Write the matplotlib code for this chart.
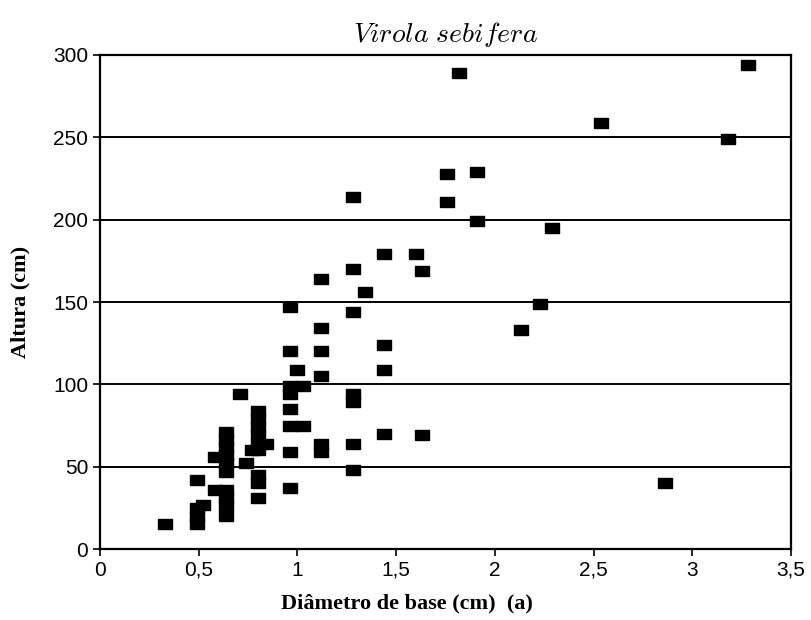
import matplotlib.pyplot as plt

# Virola sebifera - altura vs diametro de base
diametro = [0.33, 0.49, 0.49, 0.52, 0.49, 0.49, 0.58, 0.58, 0.64, 0.64,
            0.64, 0.64, 0.64, 0.64, 0.64, 0.64, 0.64, 0.64, 0.71, 0.74,
            0.77, 0.80, 0.80, 0.80, 0.80, 0.80, 0.80, 0.84, 0.80, 0.80,
            0.80, 0.96, 0.96, 1.00, 0.96, 1.03, 0.96, 0.96, 0.96, 1.03,
            0.96, 0.96, 1.12, 1.12, 1.12, 1.12, 1.12, 1.12, 1.28, 1.28,
            1.28, 1.28, 1.28, 1.28, 1.28, 1.34, 1.44, 1.44, 1.44, 1.44,
            1.60, 1.63, 1.63, 1.76, 1.76, 1.82, 1.91, 1.91, 2.13, 2.23,
            2.29, 2.54, 2.86, 3.18, 3.28]
altura = [15, 42, 25, 27, 20, 15, 56, 36, 36, 31,
          26, 20, 71, 66, 62, 57, 52, 47, 94, 52,
          60, 84, 79, 74, 69, 64, 60, 64, 45, 40,
          31, 147, 120, 109, 99, 99, 94, 85, 75, 75,
          59, 37, 164, 134, 120, 105, 64, 59, 214, 170,
          144, 94, 89, 64, 48, 156, 179, 124, 109, 70,
          179, 169, 69, 228, 211, 289, 229, 199, 133, 149,
          195, 259, 40, 249, 294]

xticks = [0, 0.5, 1, 1.5, 2, 2.5, 3, 3.5]
xtick_labels = ["0", "0,5", "1", "1,5", "2", "2,5", "3", "3,5"]
yticks = [0, 50, 100, 150, 200, 250, 300]

plt.rcParams["mathtext.fontset"] = "cm"

fig = plt.figure(figsize=(8.11, 6.2), dpi=100)
ax = fig.add_axes([0.1233, 0.1145, 0.852, 0.7968])

# wide rectangle marker, like the scanned squares
rect = [(-1.4, -1), (1.4, -1), (1.4, 1), (-1.4, 1), (-1.4, -1)]
ax.plot(diametro, altura, linestyle="none", marker=rect, markersize=10,
        color="black", zorder=3)

for v in yticks[1:]:
    ax.axhline(v, color="black", lw=1.4, zorder=1)

ax.set_xlim(0, 3.5)
ax.set_ylim(0, 300)
ax.set_xticks(xticks)
ax.set_xticklabels(xtick_labels)
ax.set_yticks(yticks)

for s in ax.spines.values():
    s.set_linewidth(1.6)
    s.set_color("black")

ax.tick_params(axis="both", direction="out", length=5, width=1.2,
               labelsize=15, colors="black")
for lab in ax.get_xticklabels() + ax.get_yticklabels():
    lab.set_fontfamily("Liberation Sans")
    lab.set_fontweight("medium")

ax.set_xlabel("Diâmetro de base (cm)  (a)", fontfamily="Liberation Serif",
              fontweight="bold", fontsize=16)
ax.xaxis.set_label_coords(0.444, -0.09)
ax.set_ylabel("Altura (cm)", fontfamily="Liberation Serif",
              fontweight="bold", fontsize=16)
ax.yaxis.set_label_coords(-0.1, 0.5)
ax.set_title(r"$Virola\ sebifera$", fontsize=20, pad=9)

fig.savefig("out.png", dpi=100)
